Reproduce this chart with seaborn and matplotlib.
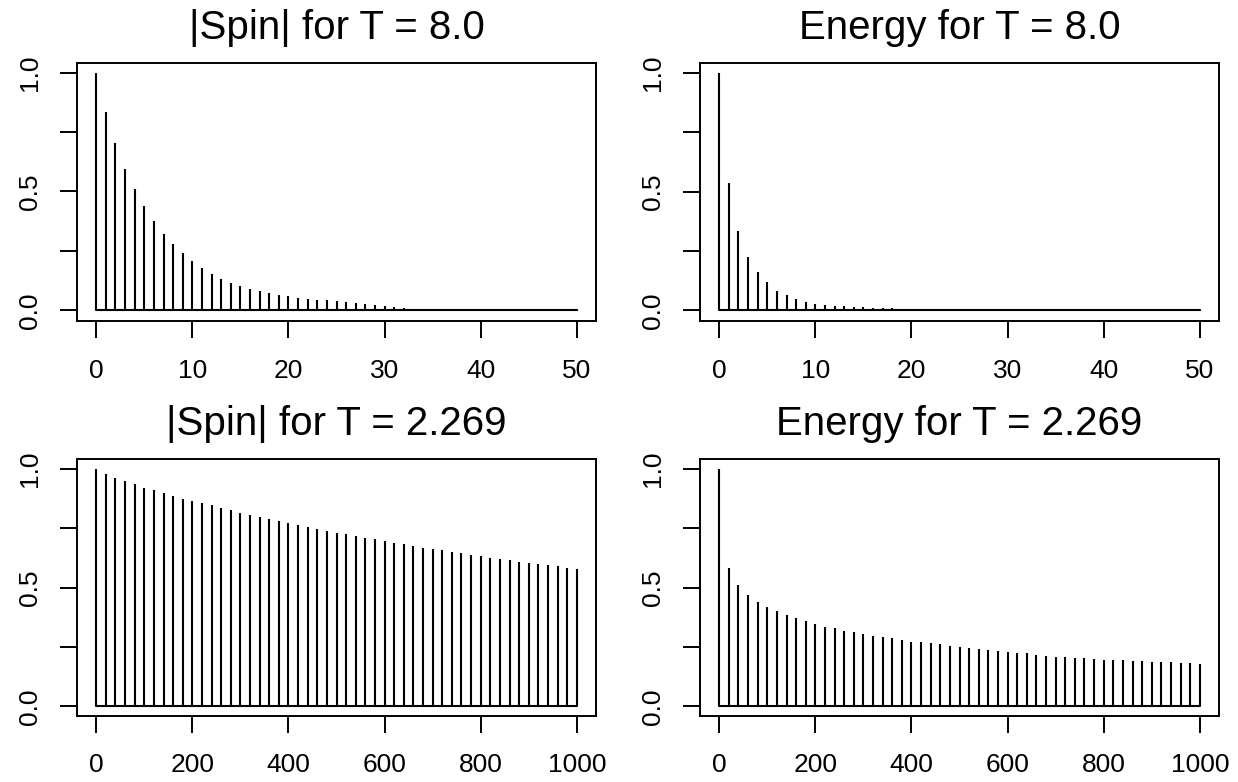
import numpy as np
import matplotlib
matplotlib.use("Agg")
import matplotlib.pyplot as plt
import seaborn as sns

# autocorrelation values
lags_short = np.arange(0, 51)            # T = 8.0, lags 0..50
lags_long = np.arange(0, 1001, 20)       # T = 2.269, lags 0..1000 every 20

spin_t8 = [1.0, 0.833, 0.702, 0.596, 0.511, 0.437, 0.374, 0.322, 0.277, 0.240,
           0.207, 0.179, 0.153, 0.133, 0.116, 0.102, 0.091, 0.081, 0.071, 0.064,
           0.058, 0.052, 0.048, 0.045, 0.042, 0.038, 0.034, 0.030, 0.026, 0.021,
           0.017, 0.013, 0.009, 0.004, 0.002, 0.001, 0.000, -0.001, -0.001, -0.002,
           -0.002, -0.002, -0.003, -0.003, -0.003, -0.003, -0.004, -0.004, -0.004, -0.004,
           -0.005]
energy_t8 = [1.0, 0.536, 0.336, 0.224, 0.160, 0.119, 0.084, 0.064, 0.048, 0.035,
             0.026, 0.021, 0.020, 0.017, 0.014, 0.013, 0.011, 0.010, 0.010, 0.008,
             0.008, 0.008, 0.006, 0.004, 0.003, 0.002, 0.001, 0.000, -0.001, 0.000,
             0.001, -0.001, 0.000, 0.002, 0.003, 0.004, 0.004, 0.004, 0.005, 0.005,
             0.006, 0.005, 0.004, 0.003, 0.002, 0.001, 0.000, -0.003, -0.003, -0.003,
             -0.004]
spin_tc = [1.0, 0.978, 0.961, 0.947, 0.933, 0.920, 0.908, 0.896, 0.885, 0.874,
           0.863, 0.854, 0.845, 0.835, 0.825, 0.815, 0.805, 0.797, 0.789, 0.780,
           0.772, 0.763, 0.754, 0.745, 0.738, 0.731, 0.724, 0.717, 0.710, 0.703,
           0.696, 0.689, 0.682, 0.675, 0.668, 0.662, 0.657, 0.650, 0.643, 0.637,
           0.632, 0.626, 0.620, 0.615, 0.609, 0.604, 0.598, 0.594, 0.590, 0.584,
           0.576]
energy_tc = [1.0, 0.581, 0.510, 0.469, 0.441, 0.419, 0.401, 0.384, 0.370, 0.359,
             0.347, 0.336, 0.328, 0.319, 0.311, 0.304, 0.297, 0.291, 0.286, 0.279,
             0.273, 0.269, 0.265, 0.261, 0.256, 0.251, 0.246, 0.242, 0.238, 0.234,
             0.230, 0.225, 0.223, 0.218, 0.214, 0.210, 0.207, 0.204, 0.202, 0.200,
             0.197, 0.196, 0.195, 0.193, 0.190, 0.189, 0.186, 0.185, 0.182, 0.181,
             0.178]

panels = [
    ("|Spin| for T = 8.0", lags_short, spin_t8, [0, 10, 20, 30, 40, 50]),
    ("Energy for T = 8.0", lags_short, energy_t8, [0, 10, 20, 30, 40, 50]),
    ("|Spin| for T = 2.269", lags_long, spin_tc, [0, 200, 400, 600, 800, 1000]),
    ("Energy for T = 2.269", lags_long, energy_tc, [0, 200, 400, 600, 800, 1000]),
]

sns.set_style("ticks")
plt.rcParams["font.family"] = ["Liberation Sans", "DejaVu Sans"]

W, H = 1238, 782
fig = plt.figure(figsize=(W / 100, H / 100), dpi=100)

# axes boxes in pixels: (left, top, right, bottom)
boxes = [(77, 63, 596, 321), (700, 63, 1219, 321),
         (77, 459, 596, 716), (700, 459, 1219, 716)]

for (title, lags, acf, xticks), (l, t, r, b) in zip(panels, boxes):
    ax = fig.add_axes([l / W, 1 - b / H, (r - l) / W, (b - t) / H])
    acf = np.asarray(acf)
    ax.vlines(lags, 0, acf, color="black", lw=1.5)
    sns.lineplot(x=lags, y=np.zeros(len(lags)), color="black", lw=1.5, ax=ax)

    # R-style 4% padding around the data range
    xr = lags.max() - lags.min()
    ax.set_xlim(lags.min() - 0.04 * xr, lags.max() + 0.04 * xr)
    lo, hi = min(acf.min(), 0), acf.max()
    ax.set_ylim(lo - 0.04 * (hi - lo), hi + 0.04 * (hi - lo))

    ax.set_xticks(xticks)
    ax.set_xticklabels([str(v) for v in xticks])
    ax.set_yticks([0, 0.25, 0.5, 0.75, 1.0])
    ax.set_yticklabels(["0.0", "", "0.5", "", "1.0"], rotation=90, va="center")
    ax.tick_params(axis="both", direction="out", length=12, width=1.4,
                   color="black", labelsize=19, labelcolor="black")
    ax.tick_params(axis="x", pad=15)
    ax.tick_params(axis="y", pad=13.5)
    for s in ax.spines.values():
        s.set_visible(True)
        s.set_color("black")
        s.set_linewidth(1.4)
    ax.set_title(title, fontsize=29, pad=17, color="black")
    ax.set_xlabel("")
    ax.set_ylabel("")

fig.savefig("out.png", dpi=100, facecolor="white")
